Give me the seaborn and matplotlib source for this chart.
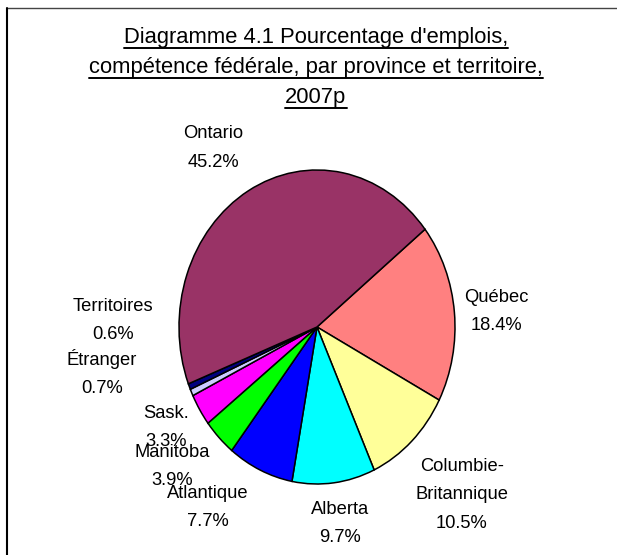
import matplotlib
matplotlib.use("Agg")
import matplotlib.pyplot as plt
from matplotlib.lines import Line2D
import seaborn as sns

# data (clockwise from Québec)
regions = ["Québec", "Columbie-\nBritannique", "Alberta", "Atlantique", "Manitoba",
           "Sask.", "Étranger", "Territoires", "Ontario"]
shares = [18.4, 10.5, 9.7, 7.7, 3.9, 3.3, 0.7, 0.6, 45.2]
colors = ["#FF8080", "#FFFF99", "#00FFFF", "#0000FF", "#00FF00",
          "#FF00FF", "#CCCCFF", "#000080", "#993366"]
title_lines = ["Diagramme 4.1 Pourcentage d'emplois,",
               "compétence fédérale, par province et territoire,",
               "2007p"]

# label centres, in pie radius units (x, y)
label_pos = [(1.30, 0.10), (1.05, -1.07), (0.17, -1.25), (-0.79, -1.15), (-1.05, -0.89),
             (-1.09, -0.64), (-1.56, -0.29), (-1.48, 0.04), (-0.75, 1.14)]

sns.set_theme(style="white")
plt.rcParams["font.family"] = ["Liberation Sans", "DejaVu Sans"]

W, H = 617, 555
fig = plt.figure(figsize=(W / 100, H / 100), dpi=100)
ax = fig.add_axes([0, 0, 1, 1])

cx, cy, rx, ry = 317, 327, 138, 157
ax.pie(shares, colors=colors, startangle=38.5, counterclock=False,
       wedgeprops=dict(edgecolor="black", linewidth=1.1))
ax.set_aspect("auto")
ax.set_xlim(-cx / rx, (W - cx) / rx)
ax.set_ylim((cy - H) / ry, cy / ry)
ax.axis("off")

for name, val, (lx, ly) in zip(regions, shares, label_pos):
    ax.text(lx, ly, f"{name}\n{val:.1f}%", ha="center", va="center",
            fontsize=13.2, linespacing=1.85, color="black")

# title with underline
baselines = [43, 73, 103]
texts = []
for line, b in zip(title_lines, baselines):
    t = fig.text(316 / W, 1 - b / H, line, ha="center", va="baseline",
                 fontsize=15.8, color="black")
    texts.append((t, b))
fig.canvas.draw()
r = fig.canvas.get_renderer()
for t, b in texts:
    bb = t.get_window_extent(r)
    yy = 1 - (b + 5) / H
    fig.add_artist(Line2D([bb.x0 / W, bb.x1 / W], [yy, yy], color="black",
                          linewidth=1.4, transform=fig.transFigure))

# outer frame (top and left only)
fig.add_artist(Line2D([7 / W, 1], [1 - 8 / H, 1 - 8 / H], color="#444444",
                      linewidth=1.0, transform=fig.transFigure))
fig.add_artist(Line2D([7 / W, 7 / W], [0, 1 - 8 / H], color="black",
                      linewidth=1.5, transform=fig.transFigure))

fig.savefig("out.png", dpi=100, facecolor="white")
